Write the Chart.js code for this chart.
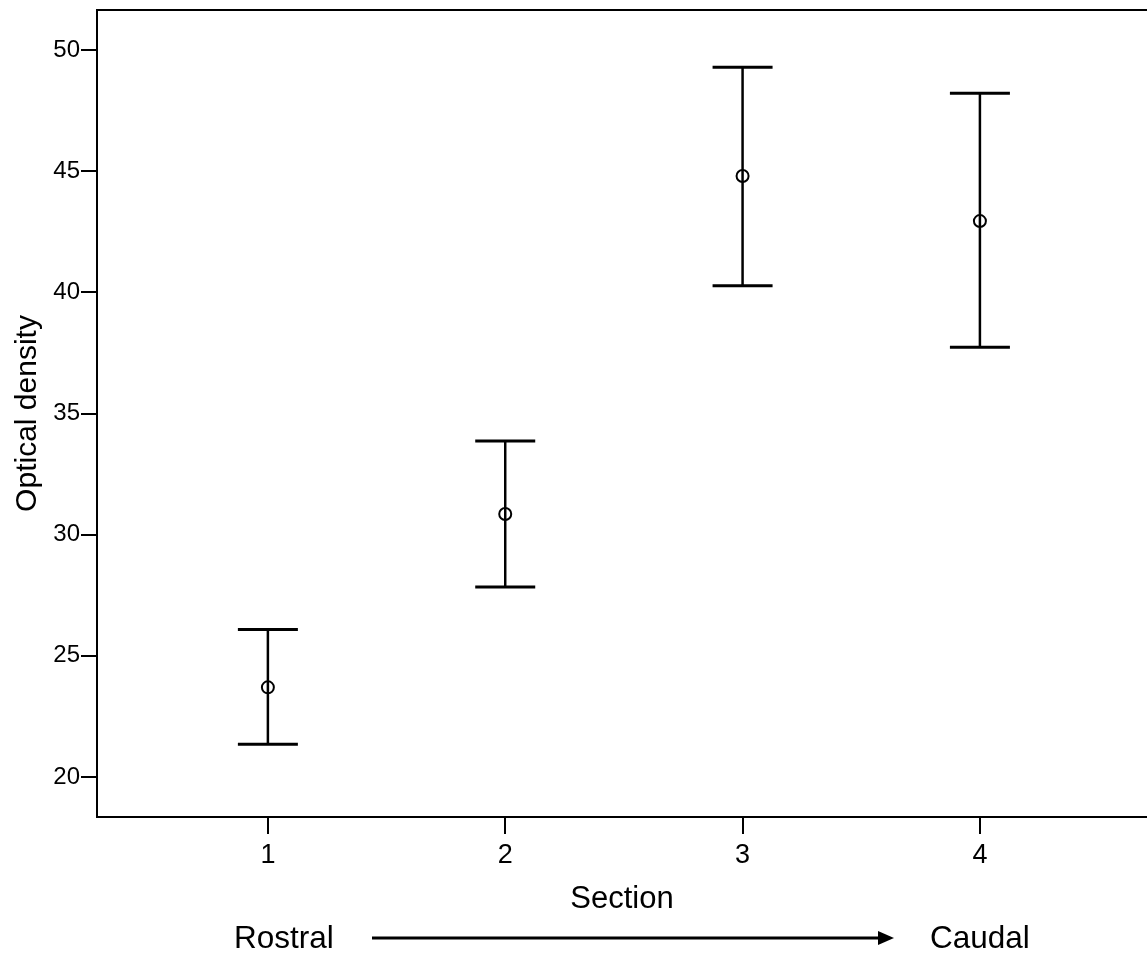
<!DOCTYPE html>
<html>
<head>
<meta charset="utf-8">
<script src="https://cdn.jsdelivr.net/npm/chart.js@4.4.1/dist/chart.umd.min.js"></script>
<style>
  html, body { margin: 0; padding: 0; background: #fff; }
  #wrap { width: 1147px; height: 959px; }
</style>
</head>
<body>
<div id="wrap"><canvas id="chart"></canvas></div>
<script>
// values
const sections = [1, 2, 3, 4];
const means = [23.70, 30.85, 44.80, 42.94];
const upper = [26.09, 33.87, 49.29, 48.21];
const lower = [21.35, 27.84, 40.27, 37.73];
const yTicks = [20, 25, 30, 35, 40, 45, 50];

const FONT = "'Liberation Sans', Arial, sans-serif";

// error bars drawn through the scales
const errorBars = {
  id: "errorBars",
  beforeDatasetsDraw(chart) {
    const { ctx, scales: { x, y } } = chart;
    ctx.save();
    ctx.strokeStyle = "#000";
    ctx.lineCap = "butt";
    sections.forEach((s, i) => {
      const px = x.getPixelForValue(s);
      const top = y.getPixelForValue(upper[i]);
      const bot = y.getPixelForValue(lower[i]);
      ctx.lineWidth = 2.5;
      ctx.beginPath();
      ctx.moveTo(px, top);
      ctx.lineTo(px, bot);
      ctx.stroke();
      ctx.lineWidth = 3;
      ctx.beginPath();
      ctx.moveTo(px - 30, top);
      ctx.lineTo(px + 30, top);
      ctx.moveTo(px - 30, bot);
      ctx.lineTo(px + 30, bot);
      ctx.stroke();
    });
    ctx.restore();
  },
};

// top frame line and the Rostral -> Caudal note
const frameAndNote = {
  id: "frameAndNote",
  afterDraw(chart) {
    const { ctx, chartArea: a } = chart;
    ctx.save();
    ctx.strokeStyle = "#000";
    ctx.lineWidth = 2;
    ctx.beginPath();
    ctx.moveTo(a.left, a.top);
    ctx.lineTo(a.right, a.top);
    ctx.stroke();

    ctx.fillStyle = "#000";
    ctx.font = "31.5px " + FONT;
    ctx.textBaseline = "alphabetic";
    ctx.textAlign = "left";
    ctx.fillText("Rostral", 234, 948);
    ctx.fillText("Caudal", 930, 948);

    ctx.lineWidth = 3;
    ctx.beginPath();
    ctx.moveTo(372, 938);
    ctx.lineTo(880, 938);
    ctx.stroke();
    ctx.beginPath();
    ctx.moveTo(894, 938);
    ctx.lineTo(878, 931);
    ctx.lineTo(878, 945);
    ctx.closePath();
    ctx.fill();
    ctx.restore();
  },
};

const noPad = (s) => {
  s.paddingTop = 0;
  s.paddingBottom = 0;
  s.paddingLeft = 0;
  s.paddingRight = 0;
};

new Chart(document.getElementById("chart"), {
  type: "scatter",
  data: {
    datasets: [
      {
        data: sections.map((s, i) => ({ x: s, y: means[i] })),
        pointStyle: "circle",
        pointRadius: 6,
        pointBorderWidth: 2,
        pointBorderColor: "#000",
        pointBackgroundColor: "rgba(0,0,0,0)",
      },
    ],
  },
  options: {
    responsive: true,
    maintainAspectRatio: false,
    animation: false,
    layout: { autoPadding: false, padding: { top: 10, right: 0, left: 0, bottom: 0 } },
    plugins: { legend: { display: false }, tooltip: { enabled: false } },
    scales: {
      x: {
        type: "linear",
        min: 0.28,
        max: 4.704,
        afterBuildTicks: (s) => { s.ticks = sections.map((v) => ({ value: v })); },
        afterFit: (s) => { s.height = 142; noPad(s); },
        grid: { drawOnChartArea: false, drawTicks: true, tickLength: 17, color: "#000", lineWidth: 2 },
        border: { display: true, color: "#000", width: 2 },
        ticks: { color: "#000", padding: 5, font: { family: FONT, size: 27 } },
        title: {
          display: true,
          text: "Section",
          color: "#000",
          font: { family: FONT, size: 31 },
          padding: { top: 0, bottom: 41 },
        },
      },
      y: {
        min: 18.35,
        max: 51.65,
        afterBuildTicks: (s) => { s.ticks = yTicks.map((v) => ({ value: v })); },
        afterFit: (s) => { s.width = 97; noPad(s); },
        grid: { drawOnChartArea: false, drawTicks: true, tickLength: 16, color: "#000", lineWidth: 2 },
        border: { display: true, color: "#000", width: 2 },
        ticks: { color: "#000", padding: 1, font: { family: FONT, size: 24 } },
        title: {
          display: true,
          text: "Optical density",
          color: "#000",
          font: { family: FONT, size: 30 },
          padding: { top: 10, bottom: 0 },
        },
      },
    },
  },
  plugins: [errorBars, frameAndNote],
});
</script>
</body>
</html>
